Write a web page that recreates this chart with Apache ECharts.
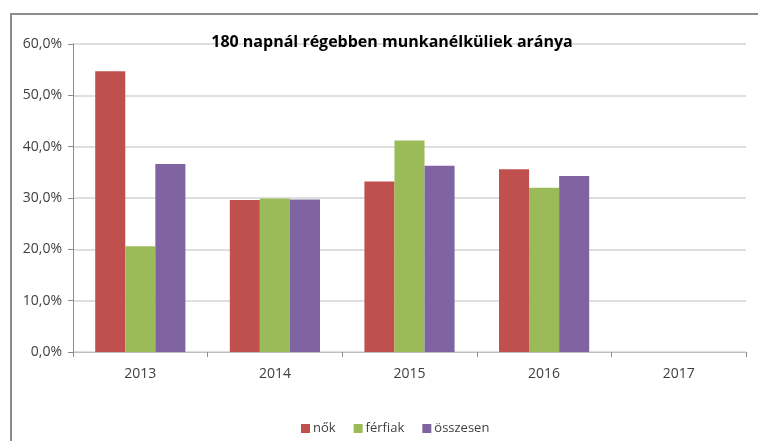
<!DOCTYPE html>
<html>
<head>
<meta charset="utf-8">
<script src="https://cdn.jsdelivr.net/npm/echarts@6/dist/echarts.min.js"></script>
<style>
  html, body { margin: 0; padding: 0; background: #fff; }
  #wrap { position: relative; width: 758px; height: 441px; overflow: hidden; }
  #frame {
    position: absolute; left: 10px; top: 13px; width: 800px; height: 500px;
    border-left: 2px solid #8c8c8c; border-top: 2px solid #8c8c8c;
  }
  #chart { position: absolute; left: 0; top: 0; width: 758px; height: 441px; }
</style>
</head>
<body>
<div id="wrap">
  <div id="frame"></div>
  <div id="chart"></div>
</div>
<script>
  var years = ['2013', '2014', '2015', '2016', '2017'];
  var nok = [54.7, 29.6, 33.2, 35.6, null];
  var ferfiak = [20.6, 29.9, 41.2, 32.0, null];
  var osszesen = [36.6, 29.7, 36.3, 34.3, null];

  var chart = echarts.init(document.getElementById('chart'));

  function pct(v) {
    return v.toFixed(1).replace('.', ',') + '%';
  }

  var option = {
    backgroundColor: 'transparent',
    animation: false,
    title: {
      text: '180 napnál régebben munkanélküliek aránya',
      left: 387,
      top: 29,
      textAlign: 'center',
      textStyle: {
        fontFamily: 'Open Sans',
        fontSize: 16,
        fontWeight: 'bold',
        color: '#000'
      }
    },
    legend: {
      bottom: 1,
      left: 296,
      itemWidth: 9,
      itemHeight: 9,
      itemGap: 18,
      icon: 'rect',
      textStyle: { fontFamily: 'Open Sans', fontSize: 13, color: '#404040', padding: [0, 0, 0, -2] },
      data: ['nők', 'férfiak', 'összesen']
    },
    grid: { left: 73, right: 12, top: 44, bottom: 89, containLabel: false },
    xAxis: {
      type: 'category',
      data: years,
      axisLine: { lineStyle: { color: '#bfbfbf', width: 1 } },
      axisTick: { show: true, length: 5, lineStyle: { color: '#8c8c8c' } },
      axisLabel: { fontFamily: 'Open Sans', fontSize: 14, color: '#404040', margin: 15 }
    },
    yAxis: {
      type: 'value',
      min: 0,
      max: 60,
      interval: 10,
      axisLine: { show: true, lineStyle: { color: '#8c8c8c', width: 1 } },
      axisTick: { show: true, length: 5, lineStyle: { color: '#8c8c8c' } },
      axisLabel: {
        fontFamily: 'Open Sans', fontSize: 14, color: '#404040', margin: 11,
        formatter: pct
      },
      splitLine: { lineStyle: { color: '#d4d4d4', width: 1.5 } }
    },
    series: [
      {
        name: 'nők', type: 'bar', data: nok,
        barGap: '0%', barCategoryGap: '33%',
        itemStyle: { color: '#C0504D' }
      },
      {
        name: 'férfiak', type: 'bar', data: ferfiak,
        itemStyle: { color: '#9BBB59' }
      },
      {
        name: 'összesen', type: 'bar', data: osszesen,
        itemStyle: { color: '#8064A2' }
      }
    ]
  };

  chart.setOption(option);
</script>
</body>
</html>
